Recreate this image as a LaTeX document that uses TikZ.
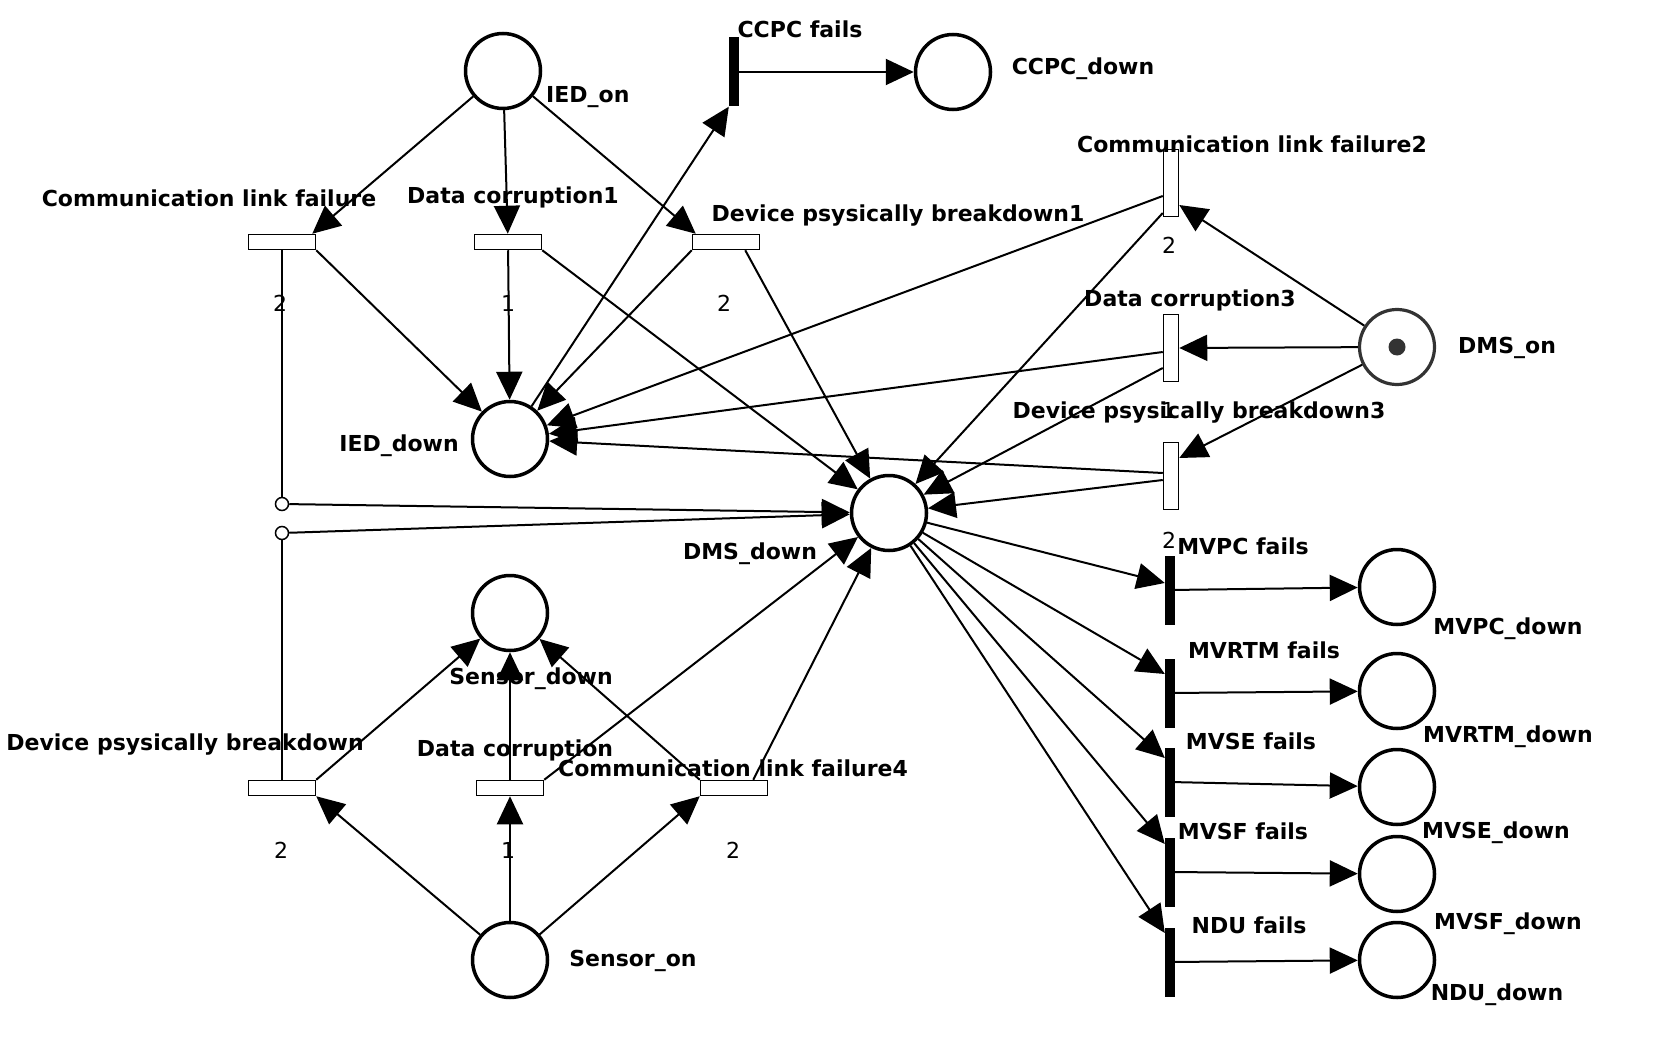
\documentclass[tikz,border=0pt]{standalone}
\usepackage{fontspec}
\setmainfont{DejaVu Sans}
\usetikzlibrary{arrows.meta}
\tikzset{
  place/.style={circle, draw=black, line width=3.5pt, minimum size=75pt, inner sep=0pt, fill=white},
  hbox/.style={rectangle, draw=black, line width=1.5pt, minimum width=67pt, minimum height=15pt, inner sep=0pt, fill=white},
  vbox/.style={rectangle, draw=black, line width=1.5pt, minimum width=15pt, minimum height=67pt, inner sep=0pt, fill=white},
  tbar/.style={rectangle, fill=black, draw=none, minimum width=10pt, minimum height=69pt, inner sep=0pt},
  bendpt/.style={circle, draw=black, line width=1.5pt, minimum size=13pt, inner sep=0pt, fill=white},
  lbl/.style={font=\bfseries\fontsize{22}{26}\selectfont, inner sep=0pt, text height=16pt, text depth=0pt},
  wt/.style={font=\fontsize{22}{26}\selectfont, inner sep=0pt, text height=16pt, text depth=0pt},
  arc/.style={line width=2pt, -{Triangle[length=28pt,width=26pt]}},
  plain/.style={line width=2pt}
}
\begin{document}
\begin{tikzpicture}[x=1pt, y=-1pt]
\useasboundingbox (0,0) rectangle (1676,1038);
\fill[white] (0,0) rectangle (1676,1038);

% places
\node[place] (iedon) at (503,71) {};
\node[place] (ccpcdown) at (953,72) {};
\node[place] (ieddown) at (510,439) {};
\node[place] (dmsdown) at (889,513) {};
\node[place, draw=black!80, line width=3.2pt] (dmson) at (1397,347) {};
\fill[black!80] (dmson.center) circle (8.5);
\node[place] (sensordown) at (510,613) {};
\node[place] (sensoron) at (510,960) {};
\node[place] (mvpcdown) at (1397,587) {};
\node[place] (mvrtmdown) at (1397,691) {};
\node[place] (mvsedown) at (1397,787) {};
\node[place] (mvsfdown) at (1397,874) {};
\node[place] (ndudown) at (1397,960) {};

% transitions
\node[hbox] (clf) at (282,242) {};
\node[hbox] (dc1) at (508,242) {};
\node[hbox] (dpb1) at (726,242) {};
\node[tbar] (ccpc) at (734,72) {};
\node[vbox] (clf2) at (1171,183) {};
\node[vbox] (dc3) at (1171,348) {};
\node[vbox] (dpb3) at (1171,476) {};
\node[hbox] (dpb) at (282,788) {};
\node[hbox] (dc) at (510,788) {};
\node[hbox] (clf4) at (734,788) {};
\node[tbar] (mvpc) at (1170,590) {};
\node[tbar] (mvrtm) at (1170,693) {};
\node[tbar] (mvse) at (1170,782) {};
\node[tbar] (mvsf) at (1170,872) {};
\node[tbar] (ndu) at (1170,962) {};

% bend points
\node[bendpt] (bendA) at (282,504) {};
\node[bendpt] (bendB) at (282,533) {};

% labels
\node[lbl] (lccpc) at (800,30) {CCPC fails};
\node[lbl, anchor=west] (liedon) at (546,95) {IED\_on};
\node[lbl] (lccpcdown) at (1083,67) {CCPC\_down};
\node[lbl] (lclf) at (209,198) {Communication link failure};
\node[lbl] (ldc1) at (513,195) {Data corruption1};
\node[lbl] (ldpb1) at (898,213) {Device psysically breakdown1};
\node[lbl] (lclf2) at (1252,145) {Communication link failure2};
\node[lbl] (ldc3) at (1190,298) {Data corruption3};
\node[lbl, anchor=west] (ldmson) at (1458,345) {DMS\_on};
\node[lbl] (ldpb3) at (1199,410) {Device psysically breakdown3};
\node[lbl] (lieddown) at (399,443) {IED\_down};
\node[lbl] (ldmsdown) at (750,551) {DMS\_down};
\node[lbl] (lsensordown) at (531,676) {Sensor\_down};
\node[lbl] (ldpb) at (185,742) {Device psysically breakdown};
\node[lbl] (ldc) at (515,748) {Data corruption};
\node[lbl] (lclf4) at (733,768) {Communication link failure4};
\node[lbl] (lsensoron) at (633,958) {Sensor\_on};
\node[lbl] (lmvpc) at (1243,546) {MVPC fails};
\node[lbl] (lmvpcdown) at (1508,626) {MVPC\_down};
\node[lbl] (lmvrtm) at (1264,650) {MVRTM fails};
\node[lbl] (lmvrtmdown) at (1508,734) {MVRTM\_down};
\node[lbl] (lmvse) at (1251,741) {MVSE fails};
\node[lbl] (lmvsedown) at (1496,830) {MVSE\_down};
\node[lbl] (lmvsf) at (1243,831) {MVSF fails};
\node[lbl] (lmvsfdown) at (1508,921) {MVSF\_down};
\node[lbl] (lndu) at (1249,925) {NDU fails};
\node[lbl] (lndudown) at (1497,992) {NDU\_down};

% weights
\node[wt] (w1) at (280,303) {2};
\node[wt] (w2) at (508,303) {1};
\node[wt] (w3) at (724,303) {2};
\node[wt] (w4) at (1169,245) {2};
\node[wt] (w5) at (1168,410) {1};
\node[wt] (w6) at (1169,540) {2};
\node[wt] (w7) at (281,850) {2};
\node[wt] (w8) at (508,850) {1};
\node[wt] (w9) at (733,850) {2};

% arcs: IED part
\draw[arc] (iedon) -- ([xshift=-4pt]clf.north east);
\draw[arc] (iedon) -- (dc1);
\draw[arc] (iedon) -- ([xshift=4pt]dpb1.north west);
\draw[arc] (clf.south east) -- (ieddown);
\draw[plain] (clf.south) -- (bendA);
\draw[arc] (bendA) -- (dmsdown);
\draw[arc] (dc1) -- (ieddown);
\draw[arc] (dc1.south east) -- (dmsdown);
\draw[arc] (dpb1.south west) -- (ieddown);
\draw[arc] ([xshift=-15pt]dpb1.south east) -- (dmsdown);
\draw[arc] (ieddown) -- (ccpc.south west);
\draw[arc] (ccpc) -- (ccpcdown);

% arcs: DMS_on part
\draw[arc] (dmson) -- ([yshift=-22pt]clf2.east);
\draw[arc] (dmson) -- (dc3);
\draw[arc] (dmson) -- ([yshift=18pt]dpb3.east);
\draw[arc] ([yshift=-13pt]clf2.west) -- (ieddown);
\draw[arc] ([yshift=-30pt]clf2.west) -- (dmsdown);
\draw[arc] ([yshift=-4pt]dc3.west) -- (ieddown);
\draw[arc] ([yshift=-20pt]dc3.west) -- (dmsdown);
\draw[arc] ([yshift=3pt]dpb3.west) -- (ieddown);
\draw[arc] ([yshift=-4pt]dpb3.west) -- (dmsdown);

% arcs: sensor part
\draw[arc] (sensoron) -- (dpb.south east);
\draw[arc] (sensoron) -- (dc);
\draw[arc] (sensoron) -- (clf4.south west);
\draw[arc] (dpb.north east) -- (sensordown);
\draw[plain] (dpb.north) -- (bendB);
\draw[arc] (bendB) -- (dmsdown);
\draw[arc] (dc) -- (sensordown);
\draw[arc] (dc.north east) -- (dmsdown);
\draw[arc] (clf4.north west) -- (sensordown);
\draw[arc] ([xshift=-15pt]clf4.north east) -- (dmsdown);

% arcs: DMS_down outputs
\draw[arc] (dmsdown) -- ([yshift=7pt]mvpc.west);
\draw[arc] (dmsdown) -- ([yshift=19pt]mvrtm.west);
\draw[arc] (dmsdown) -- ([yshift=24pt]mvse.west);
\draw[arc] (dmsdown) -- ([yshift=28pt]mvsf.west);
\draw[arc] (dmsdown) -- ([yshift=29pt]ndu.west);
\draw[arc] (mvpc) -- (mvpcdown);
\draw[arc] (mvrtm) -- (mvrtmdown);
\draw[arc] (mvse) -- (mvsedown);
\draw[arc] (mvsf) -- (mvsfdown);
\draw[arc] (ndu) -- (ndudown);
\end{tikzpicture}
\end{document}
